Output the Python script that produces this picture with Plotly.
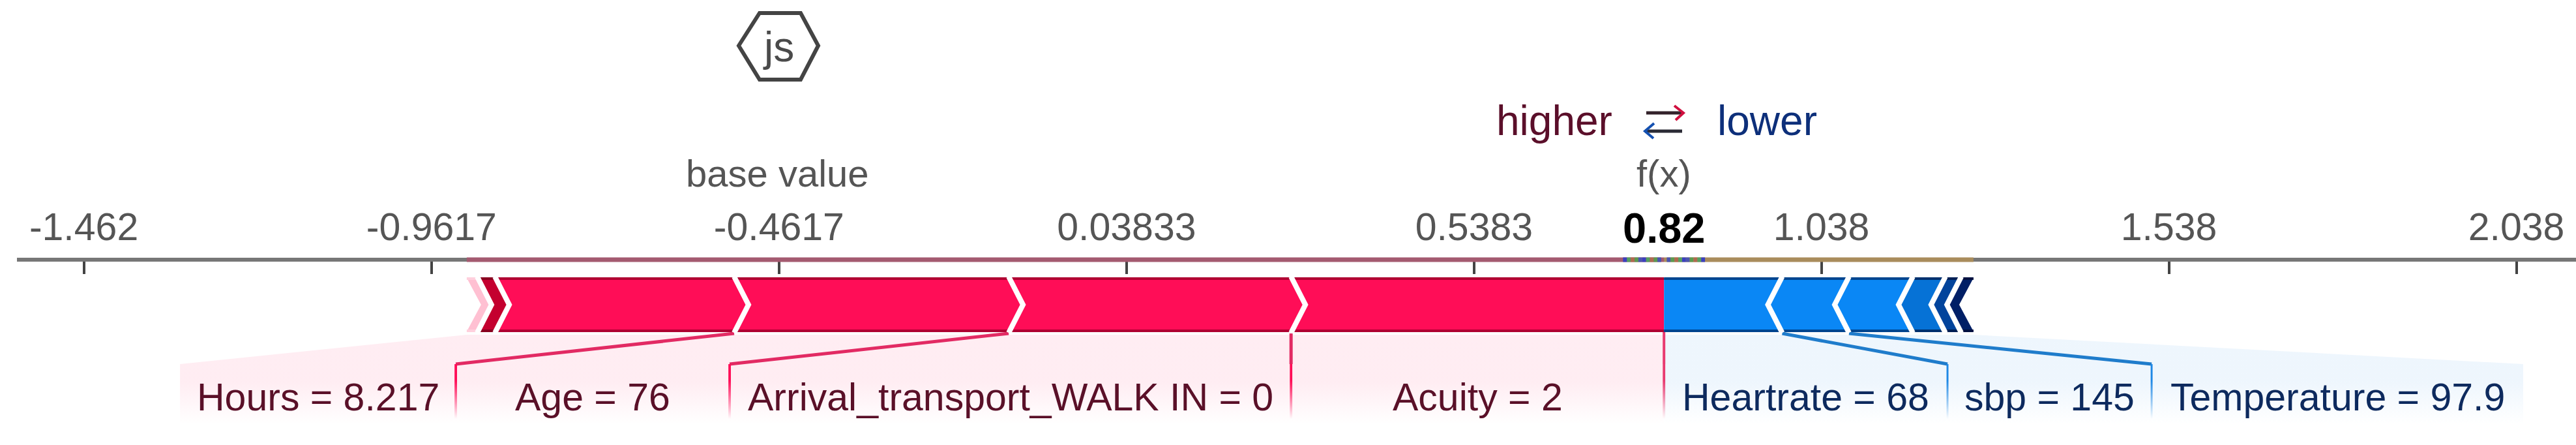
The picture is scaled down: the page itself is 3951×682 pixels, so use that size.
# plot.py - SHAP force plot recreated in plotly

import plotly.graph_objects as go

WIDTH = 3951
HEIGHT = 682

# Values
tick_values = [-1.462, -0.9617, -0.4617, 0.03833, 0.5383, 1.038, 1.538, 2.038]
tick_labels = ["-1.462", "-0.9617", "-0.4617", "0.03833", "0.5383", "1.038", "1.538", "2.038"]
fx_position = 0.8116
fx_label = "0.82"
base_position = -0.4637

# Contributions, walking away from f(x)
red_contrib = [0.5366, 0.4063, 0.3950, 0.3442, 0.0255, 0.0150]
blue_contrib = [0.1701, 0.0961, 0.0919, 0.0468, 0.0228, 0.0176]
red_colors = ["#ff0d57", "#ff0d57", "#ff0d57", "#ff0d57", "#c4002f", "#ffc0d2"]
blue_colors = ["#0a87f5", "#0a87f5", "#0a87f5", "#0672d6", "#02449c", "#001f66"]
red_edges = ["#b00032", "#b00032", "#b00032", "#b00032", "#8a0020", "#ffd0dd"]
blue_edges = ["#00458f", "#00458f", "#00458f", "#00306e", "#001f55", "#001040"]

red_labels = ["Acuity = 2", "Arrival_transport_WALK IN = 0", "Age = 76", "Hours = 8.217"]
blue_labels = ["Heartrate = 68", "sbp = 145", "Temperature = 97.9"]
# label box edges on the axis scale, from f(x) outwards
red_label_edges = [0.8116, 0.2750, -0.5328, -0.9268, -1.3236]
blue_label_edges = [0.8116, 1.2195, 1.5132, 2.0478]

axis_dash_colors = ["#4a55b0", "#5c9a50", "#b06a50", "#55a060", "#3a40c0"]

# Layout, in pixels of the picture
AXIS_Y = 398
BAR_TOP = 426
BAR_BOTTOM = 508
BAR_MID = 467
TIP = 0.0206  # chevron depth on the axis scale
LINK_TOP = 513
LINK_KNEE = 558
LINK_END = 650
LABEL_Y = 609
FONT = "Liberation Sans"


def stack(start, steps, sign):
    edges = [start]
    for s in steps:
        edges.append(edges[-1] + sign * s)
    return edges


red_stack = stack(fx_position, red_contrib, -1)
blue_stack = stack(fx_position, blue_contrib, 1)

fig = go.Figure()


def add_poly(xs, ys, color):
    fig.add_trace(go.Scatter(x=xs, y=ys, mode="lines", fill="toself", fillcolor=color,
                             line=dict(width=0), hoverinfo="skip"))


def add_line(xs, ys, color, width):
    fig.add_trace(go.Scatter(x=xs, y=ys, mode="lines", line=dict(color=color, width=width),
                             hoverinfo="skip"))


def add_fade(xs, ys, rgb, alpha, start, stop):
    # filled area that fades out towards the bottom
    fig.add_trace(go.Scatter(
        x=xs, y=ys, mode="lines", fill="toself", line=dict(width=0), hoverinfo="skip",
        fillgradient=dict(type="vertical", start=start, stop=stop, colorscale=[
            [0, f"rgba({rgb},{alpha})"],
            [0.3, f"rgba({rgb},{alpha})"],
            [1, f"rgba({rgb},0)"],
        ]),
    ))


def add_links(bar_stack, label_edges, rgb, alpha, line_color, offset):
    # pale areas and connector lines between the bar and the labels
    bar_x = bar_stack[:len(label_edges) - 1] + [bar_stack[-1]]
    for i in range(len(label_edges) - 1):
        a, b = bar_x[i], bar_x[i + 1]
        la, lb = label_edges[i], label_edges[i + 1]
        add_fade([a, b, lb, lb, la, la, a],
                 [LINK_TOP, LINK_TOP, LINK_KNEE, LINK_END, LINK_END, LINK_KNEE, LINK_TOP],
                 rgb, alpha, LINK_KNEE, LINK_END)
    for i in range(len(label_edges) - 2):
        add_line([bar_x[i + 1], label_edges[i + 1]], [BAR_BOTTOM + 3, LINK_KNEE], line_color, 5)
    for x in label_edges[1:-1]:
        add_fade([x - offset, x + offset, x + offset, x - offset],
                 [LINK_KNEE, LINK_KNEE, LINK_END - 8, LINK_END - 8],
                 rgb, 1, LINK_KNEE, LINK_END - 8)


add_links(red_stack, red_label_edges, "255,13,87", 0.075, "#e22a63", 0.0018)
add_links(blue_stack, blue_label_edges, "30,136,229", 0.075, "#1f7ccb", 0.0014)

# the f(x) line stays red all the way down
add_line([fx_position, fx_position], [BAR_BOTTOM, LINK_KNEE], "#e83a70", 4)
add_fade([fx_position - 0.0018, fx_position + 0.0018, fx_position + 0.0018, fx_position - 0.0018],
         [LINK_KNEE, LINK_KNEE, LINK_END - 8, LINK_END - 8], "232,58,112", 1, LINK_KNEE, LINK_END - 8)

# red chevrons point right, blue ones left
for i, c in enumerate(red_contrib):
    b, a = red_stack[i], red_stack[i + 1]
    tip_b = 0 if i == 0 else TIP
    add_poly([a, b, b + tip_b, b, a, a + TIP, a],
             [BAR_TOP, BAR_TOP, BAR_MID, BAR_BOTTOM, BAR_BOTTOM, BAR_MID, BAR_TOP], red_colors[i])
    add_line([a, b], [BAR_TOP + 1, BAR_TOP + 1], red_edges[i], 4)
    add_line([a, b], [BAR_BOTTOM - 1, BAR_BOTTOM - 1], red_edges[i], 4)

for i, c in enumerate(blue_contrib):
    a, b = blue_stack[i], blue_stack[i + 1]
    tip_a = 0 if i == 0 else TIP
    add_poly([a, b, b - TIP, b, a, a - tip_a, a],
             [BAR_TOP, BAR_TOP, BAR_MID, BAR_BOTTOM, BAR_BOTTOM, BAR_MID, BAR_TOP], blue_colors[i])
    add_line([a, b], [BAR_TOP + 1, BAR_TOP + 1], blue_edges[i], 4)
    add_line([a, b], [BAR_BOTTOM - 1, BAR_BOTTOM - 1], blue_edges[i], 4)

# white separators between the chevrons
for x in red_stack[1:-1]:
    add_line([x, x + TIP, x], [BAR_TOP - 2, BAR_MID, BAR_BOTTOM + 2], "white", 8)
for x in blue_stack[1:-1]:
    add_line([x, x - TIP, x], [BAR_TOP - 2, BAR_MID, BAR_BOTTOM + 2], "white", 8)

# coloured stretches along the axis line
add_line([red_stack[-1], fx_position], [AXIS_Y, AXIS_Y], "#a45a70", 7)
add_line([fx_position, blue_stack[-1]], [AXIS_Y, AXIS_Y], "#a98c5c", 7)
dash_step = 0.0055
for side in (-1, 1):
    for i in range(10):
        x0 = fx_position + side * (0.004 + i * dash_step)
        add_line([x0, x0 + side * dash_step], [AXIS_Y, AXIS_Y], axis_dash_colors[i % 5], 7)


def add_text(px, py, text, size, color, bold=False):
    fig.add_annotation(
        x=px / WIDTH, y=1 - py / HEIGHT, xref="paper", yref="paper", text=f"<b>{text}</b>" if bold else text,
        showarrow=False, xanchor="center", yanchor="middle",
        font=dict(family=FONT, size=size, color=color),
    )


def val_to_px(v):
    return 128.5 + (v - tick_values[0]) * 1066


add_text(val_to_px(base_position), 265, "base value", 58, "#555555")
add_text(val_to_px(fx_position), 265, "f(x)", 58, "#555555")
add_text(val_to_px(fx_position), 349, fx_label, 65, "#000000", bold=True)
add_text(2384, 185, "higher", 64, "#5b0f2a")
add_text(2710, 185, "lower", 64, "#0d2f7a")

for i, text in enumerate(red_labels):
    mid = (red_label_edges[i] + red_label_edges[i + 1]) / 2
    add_text(val_to_px(mid), LABEL_Y, text, 59, "#5a1028")
for i, text in enumerate(blue_labels):
    mid = (blue_label_edges[i] + blue_label_edges[i + 1]) / 2
    add_text(val_to_px(mid), LABEL_Y, text, 59, "#0d2a5e")

# js badge and the arrows are plain page decoration
add_text(1194, 72, "js", 64, "#4a4a4a")


def paper_path(points, close=False):
    parts = [f"{'M' if i == 0 else 'L'} {x / WIDTH} {1 - y / HEIGHT}" for i, (x, y) in enumerate(points)]
    return " ".join(parts) + (" Z" if close else "")


shapes = [
    dict(type="path", xref="paper", yref="paper", line=dict(color="#444444", width=6),
         path=paper_path([(1133, 70), (1165, 20), (1228, 20), (1255, 70), (1228, 122), (1165, 122)], close=True)),
    dict(type="path", xref="paper", yref="paper", line=dict(color="#33222a", width=5),
         path=paper_path([(2525, 173), (2581, 173)])),
    dict(type="path", xref="paper", yref="paper", line=dict(color="#d0103f", width=4),
         path=paper_path([(2568, 162), (2582, 173), (2570, 184)])),
    dict(type="path", xref="paper", yref="paper", line=dict(color="#2a2a35", width=5),
         path=paper_path([(2523, 201), (2580, 201)])),
    dict(type="path", xref="paper", yref="paper", line=dict(color="#1450b0", width=4),
         path=paper_path([(2537, 189), (2523, 201), (2536, 212)])),
]

fig.update_layout(
    width=WIDTH,
    height=HEIGHT,
    margin=dict(l=0, r=0, t=0, b=0),
    paper_bgcolor="white",
    plot_bgcolor="white",
    showlegend=False,
    shapes=shapes,
    xaxis=dict(
        domain=[26 / WIDTH, 1],
        range=[-1.5582, 2.1238],
        anchor="free",
        position=1 - AXIS_Y / HEIGHT,
        side="top",
        layer="below traces",
        showline=True,
        linecolor="#777777",
        linewidth=6,
        showgrid=False,
        zeroline=False,
        ticks="inside",
        ticklen=19,
        tickwidth=4,
        tickcolor="#444444",
        tickvals=tick_values,
        ticktext=tick_labels,
        ticklabelstandoff=3,
        tickfont=dict(family=FONT, size=59, color="#555555"),
    ),
    yaxis=dict(range=[HEIGHT, 0], domain=[0, 1], visible=False),
)

fig.write_html("out.html", config=dict(displayModeBar=False),
               post_script="document.body.style.margin='0';document.documentElement.style.overflow='hidden';")
